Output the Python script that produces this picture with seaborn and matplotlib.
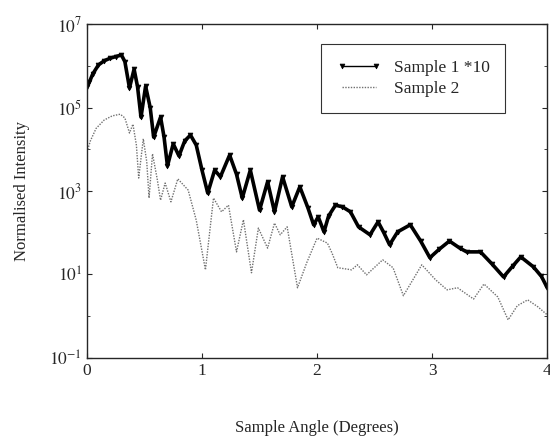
import numpy as np
import pandas as pd
import seaborn as sns
import matplotlib
matplotlib.use("Agg")
import matplotlib.pyplot as plt

# data (log10 of intensity)
angle_1 = [0.00, 0.02, 0.05, 0.10, 0.15, 0.20, 0.25, 0.30, 0.33, 0.37, 0.41, 0.44,
           0.47, 0.51, 0.55, 0.58, 0.64, 0.67, 0.70, 0.75, 0.80, 0.85, 0.90, 0.95,
           1.00, 1.05, 1.11, 1.16, 1.24, 1.30, 1.35, 1.42, 1.50, 1.57, 1.63, 1.70,
           1.78, 1.85, 1.92, 1.97, 2.01, 2.06, 2.10, 2.16, 2.22, 2.29, 2.36, 2.46,
           2.53, 2.58, 2.63, 2.70, 2.81, 2.90, 2.98, 3.06, 3.15, 3.24, 3.30, 3.42,
           3.52, 3.62, 3.70, 3.77, 3.88, 3.95, 4.00]
log_1 = [5.50, 5.60, 5.80, 6.02, 6.12, 6.18, 6.22, 6.26, 6.10, 5.47, 5.92, 5.50,
         4.77, 5.51, 5.00, 4.29, 4.77, 4.30, 3.60, 4.13, 3.84, 4.20, 4.34, 4.10,
         3.50, 2.95, 3.50, 3.34, 3.86, 3.40, 2.83, 3.50, 2.54, 3.22, 2.50, 3.34,
         2.62, 3.10, 2.60, 2.19, 2.38, 2.02, 2.40, 2.66, 2.62, 2.50, 2.14, 1.95,
         2.26, 2.00, 1.71, 2.02, 2.19, 1.80, 1.40, 1.60, 1.80, 1.63, 1.54, 1.54,
         1.25, 0.94, 1.20, 1.42, 1.18, 0.95, 0.68]

angle_2 = [0.00, 0.03, 0.08, 0.15, 0.22, 0.29, 0.33, 0.37, 0.40, 0.43, 0.45, 0.49,
           0.52, 0.54, 0.57, 0.61, 0.64, 0.68, 0.73, 0.79, 0.88, 0.95, 1.03, 1.10,
           1.17, 1.23, 1.30, 1.36, 1.43, 1.49, 1.57, 1.63, 1.68, 1.74, 1.83, 1.91,
           2.00, 2.09, 2.13, 2.18, 2.30, 2.35, 2.43, 2.57, 2.66, 2.75, 2.91, 3.03,
           3.13, 3.22, 3.36, 3.45, 3.57, 3.66, 3.74, 3.83, 3.92, 4.00]
log_2 = [3.93, 4.20, 4.50, 4.70, 4.80, 4.84, 4.75, 4.39, 4.60, 4.10, 3.31, 4.25,
         3.70, 2.83, 3.89, 3.30, 2.78, 3.19, 2.74, 3.29, 3.02, 2.30, 1.11, 2.83,
         2.50, 2.66, 1.54, 2.31, 1.04, 2.11, 1.63, 2.23, 1.95, 2.14, 0.68, 1.28,
         1.87, 1.75, 1.51, 1.16, 1.11, 1.23, 0.99, 1.35, 1.16, 0.49, 1.23, 0.87,
         0.63, 0.68, 0.41, 0.77, 0.46, -0.09, 0.25, 0.39, 0.22, 0.03]

x_ticks = [0, 1, 2, 3, 4]
y_ticks = [1e-1, 1e1, 1e3, 1e5, 1e7]

df1 = pd.DataFrame({"angle": angle_1, "intensity": np.power(10.0, log_1)})
df2 = pd.DataFrame({"angle": angle_2, "intensity": np.power(10.0, log_2)})

sns.set_style("ticks")
plt.rcParams["font.family"] = ["Liberation Serif", "DejaVu Serif"]
plt.rcParams["mathtext.fontset"] = "stix"

fig = plt.figure(figsize=(5.5, 4.38), dpi=100)
ax = fig.add_axes([0.158, 0.183, 0.837, 0.762])

sns.lineplot(data=df1, x="angle", y="intensity", ax=ax, color="black",
             linewidth=2.6, marker="v", markersize=3.5, markeredgewidth=0.5,
             markeredgecolor="black", label="Sample 1 *10")
sns.lineplot(data=df2, x="angle", y="intensity", ax=ax, color="#707070",
             linewidth=1.0, linestyle=(0, (1, 1)), label="Sample 2")

ax.set_yscale("log")
ax.set_xlim(0, 4)
ax.set_ylim(1e-1, 1e7)
ax.set_xticks(x_ticks)
ax.set_xticklabels([str(t) for t in x_ticks])
ax.yaxis.set_major_locator(matplotlib.ticker.FixedLocator(y_ticks))
ax.yaxis.set_major_formatter(matplotlib.ticker.FixedFormatter(
    [r"$10^{%d}$" % int(np.log10(t)) for t in y_ticks]))
ax.yaxis.set_minor_locator(matplotlib.ticker.LogLocator(base=10, subs=[1.0], numticks=20))
ax.yaxis.set_minor_formatter(matplotlib.ticker.NullFormatter())
ax.tick_params(which="both", direction="in", top=True, right=True, labelsize=12.5)
ax.tick_params(which="minor", length=2.5)
for s in ax.spines.values():
    s.set_linewidth(1.0)
    s.set_visible(True)

ax.set_xlabel("Sample Angle (Degrees)", fontsize=12, labelpad=30)
ax.set_ylabel("Normalised Intensity", fontsize=12, labelpad=14)

leg = ax.legend(loc="upper right", bbox_to_anchor=(0.909, 0.94), borderaxespad=0,
                frameon=True, fancybox=False, edgecolor="black", fontsize=12.5,
                numpoints=2, handlelength=2.6, handletextpad=0.7,
                borderpad=0.9, labelspacing=0.3)
leg.get_frame().set_linewidth(0.8)
for h in leg.get_lines():
    h.set_linewidth(1.0)

fig.savefig("out.png", dpi=100)
